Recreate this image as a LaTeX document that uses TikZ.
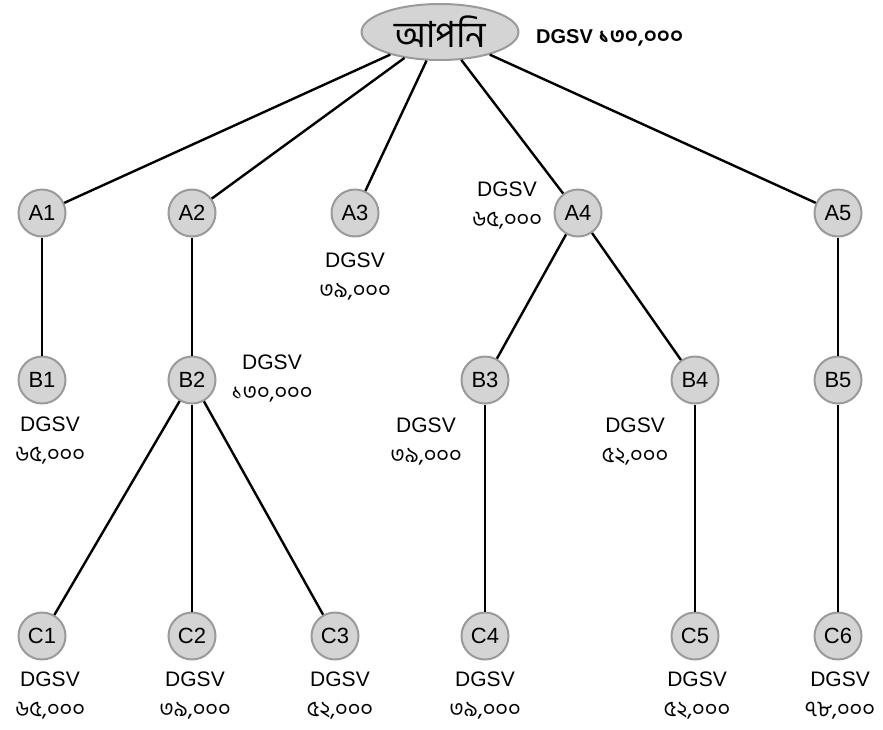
\documentclass[tikz,border=0pt]{standalone}
\usepackage{fontspec}
\setmainfont{Liberation Sans}
\newfontfamily\bnfont[Script=Bengali]{Hind Siliguri}
\definecolor{nodefill}{HTML}{D4D4D4}
\definecolor{nodeline}{HTML}{9A9A9A}
\usetikzlibrary{shapes.geometric}
\tikzset{
  mem/.style={circle, draw=nodeline, fill=nodefill, line width=2pt, minimum size=47pt, inner sep=0pt, font=\fontsize{22}{24}\selectfont},
  you/.style={ellipse, draw=nodeline, fill=nodefill, line width=2pt, minimum width=157pt, minimum height=56pt, inner sep=0pt, font=\bnfont\fontsize{36}{38}\selectfont},
  conn/.style={line width=2.4pt, black},
  lab/.style={align=center, font=\fontsize{21}{30}\selectfont, inner sep=0pt},
}
\newcommand{\bn}[1]{{\bnfont\fontsize{22}{24}\selectfont #1}}
\begin{document}
\begin{tikzpicture}[x=1pt,y=-1pt]
\useasboundingbox (0,0) rectangle (883,729);
\node[you] (Y) at (440,32) {আপনি};
\node[anchor=west, inner sep=0pt, font=\bfseries\fontsize{20}{22}\selectfont] (YL) at (536,38) {DGSV \bn{\bfseries ১৩০,০০০}};

\node[mem] (A1) at (42,213) {A1};
\node[mem] (A2) at (192,213) {A2};
\node[mem] (A3) at (355,213) {A3};
\node[mem] (A4) at (578,213) {A4};
\node[mem] (A5) at (838,213) {A5};

\node[mem] (B1) at (42,380) {B1};
\node[mem] (B2) at (192,380) {B2};
\node[mem] (B3) at (485,380) {B3};
\node[mem] (B4) at (695,380) {B4};
\node[mem] (B5) at (838,380) {B5};

\node[mem] (C1) at (42,636) {C1};
\node[mem] (C2) at (192,636) {C2};
\node[mem] (C3) at (335,636) {C3};
\node[mem] (C4) at (485,636) {C4};
\node[mem] (C5) at (695,636) {C5};
\node[mem] (C6) at (838,636) {C6};

\node[lab] (LA3) at (355,277) {DGSV\\\bn{৩৯,০০০}};
\node[lab] (LA4) at (507,206) {DGSV\\\bn{৬৫,০০০}};
\node[lab] (LB1) at (50,441) {DGSV\\\bn{৬৫,০০০}};
\node[lab] (LB2) at (272,379) {DGSV\\\bn{১৩০,০০০}};
\node[lab] (LB3) at (426,442) {DGSV\\\bn{৩৯,০০০}};
\node[lab] (LB4) at (635,442) {DGSV\\\bn{৫২,০০০}};
\node[lab] (LC1) at (50,696) {DGSV\\\bn{৬৫,০০০}};
\node[lab] (LC2) at (195,696) {DGSV\\\bn{৩৯,০০০}};
\node[lab] (LC3) at (340,696) {DGSV\\\bn{৫২,০০০}};
\node[lab] (LC4) at (485,696) {DGSV\\\bn{৩৯,০০০}};
\node[lab] (LC5) at (697,696) {DGSV\\\bn{৫২,০০০}};
\node[lab] (LC6) at (840,696) {DGSV\\\bn{৭৮,০০০}};

\draw[conn] (Y) -- (A1);
\draw[conn] (Y) -- (A2);
\draw[conn] (Y) -- (A3);
\draw[conn] (Y) -- (A4);
\draw[conn] (Y) -- (A5);
\draw[conn] (A1) -- (B1);
\draw[conn] (A2) -- (B2);
\draw[conn] (A4) -- (B3);
\draw[conn] (A4) -- (B4);
\draw[conn] (A5) -- (B5);
\draw[conn] (B2) -- (C1);
\draw[conn] (B2) -- (C2);
\draw[conn] (B2) -- (C3);
\draw[conn] (B3) -- (C4);
\draw[conn] (B4) -- (C5);
\draw[conn] (B5) -- (C6);
\end{tikzpicture}
\end{document}
